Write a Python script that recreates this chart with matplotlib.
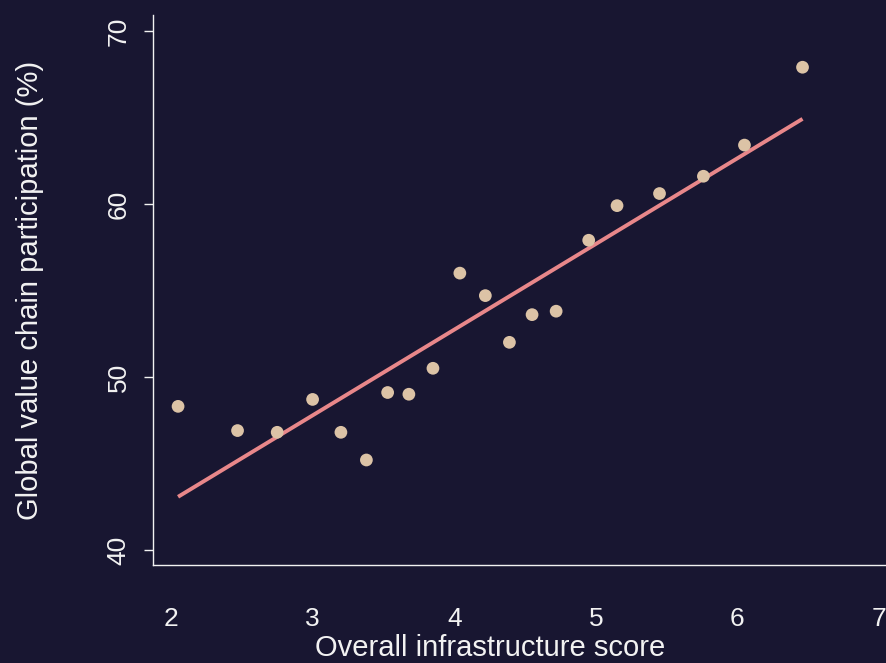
import numpy as np
import matplotlib
matplotlib.use('Agg')
import matplotlib.pyplot as plt

# infrastructure score vs GVC participation, one point per economy
infra_score = [2.05, 2.47, 2.75, 3.00, 3.20, 3.38, 3.53, 3.68, 3.85, 4.04,
               4.22, 4.39, 4.55, 4.72, 4.95, 5.15, 5.45, 5.76, 6.05, 6.46]
gvc_share = [48.3, 46.9, 46.8, 48.7, 46.8, 45.2, 49.1, 49.0, 50.5, 56.0,
             54.7, 52.0, 53.6, 53.8, 57.9, 59.9, 60.6, 61.6, 63.4, 67.9]
x_ticks = [2, 3, 4, 5, 6, 7]
y_ticks = [40, 50, 60, 70]

bg = '#181631'
fg = '#f2f2f2'
plt.rcParams['font.family'] = ['Liberation Sans', 'DejaVu Sans']

fig = plt.figure(figsize=(8.87, 6.63), dpi=100, facecolor=bg)
ax = fig.add_axes([0.1725, 0.1478, 0.8504, 0.8296], facecolor=bg)

x = np.array(infra_score)
y = np.array(gvc_share)
ax.scatter(x, y, s=84, color='#dcc3a6', edgecolors='none', zorder=3)

# least squares fit over the observed range
slope, intercept = np.polyfit(x, y, 1)
xf = np.array([x.min(), x.max()])
ax.plot(xf, intercept + slope * xf, color='#e8878a', lw=2.8, solid_capstyle='butt', zorder=2)

ax.set_xlim(1.873, 7.2)
ax.set_ylim(39.13, 70.92)
ax.set_xticks(x_ticks)
ax.set_yticks(y_ticks)
ax.set_xticklabels([str(t) for t in x_ticks])
ax.set_yticklabels([str(t) for t in y_ticks], rotation=90, va='center')

for side in ['top', 'right']:
    ax.spines[side].set_visible(False)
for side in ['left', 'bottom']:
    ax.spines[side].set_color(fg)
    ax.spines[side].set_linewidth(1.0)

ax.tick_params(axis='x', length=0, pad=30, labelsize=19, colors=fg)
ax.tick_params(axis='y', length=6.5, width=1.0, pad=9.5, labelsize=19, colors=fg)

ax.set_xlabel('Overall infrastructure score', fontsize=21, color=fg)
ax.set_ylabel('Global value chain participation (%)', fontsize=21, color=fg)
ax.xaxis.set_label_coords(0.4468, -0.1255)
ax.yaxis.set_label_coords(-0.1449, 0.5)

fig.savefig('out.png', dpi=100, facecolor=bg)
